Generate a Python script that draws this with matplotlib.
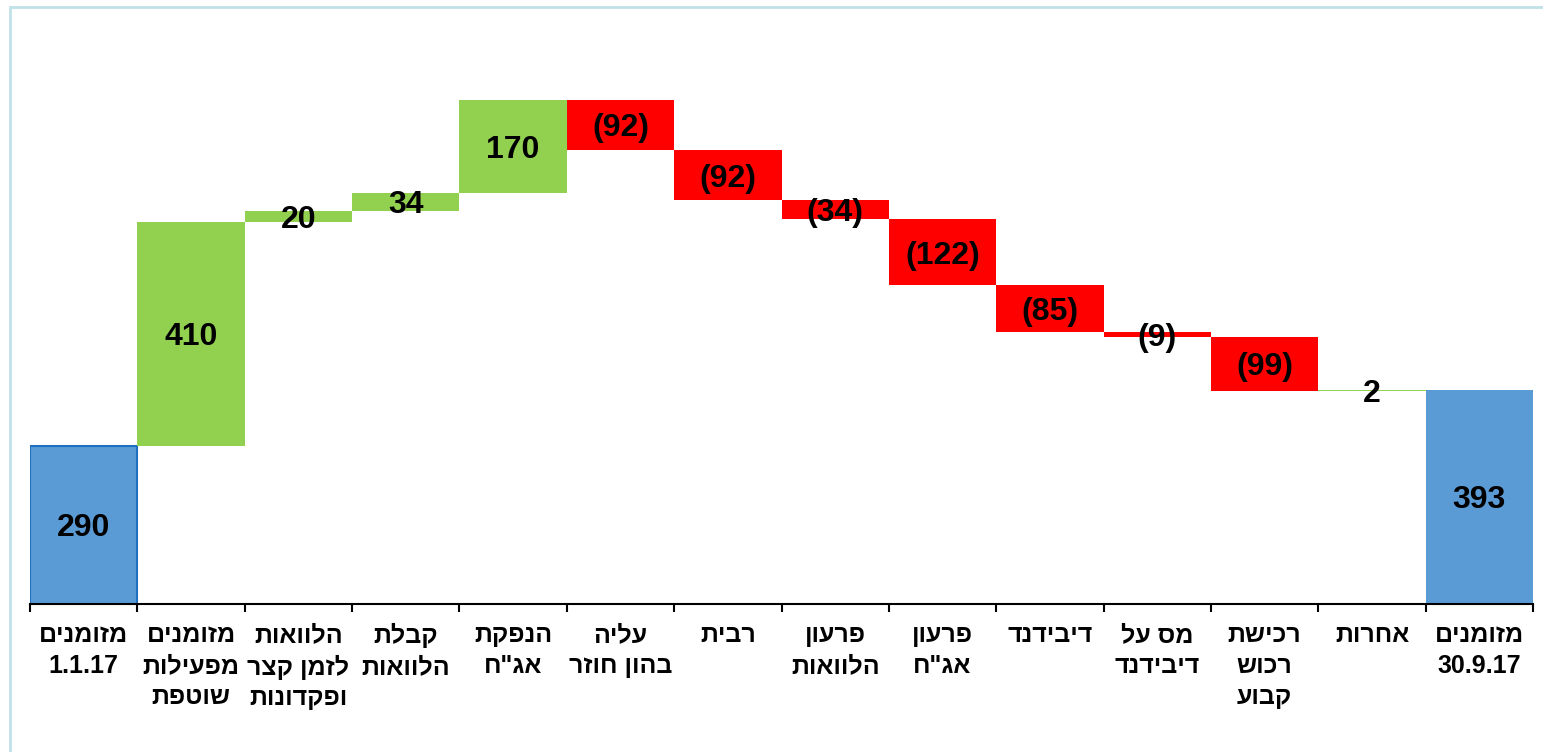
import matplotlib
matplotlib.use("Agg")
import matplotlib.pyplot as plt
import numpy as np
from matplotlib.patches import Rectangle

plt.rcParams['font.family'] = ['Liberation Sans', 'DejaVu Sans']

# categories (logical Hebrew order, one string per label, lines split by \n)
categories = [
    "מזומנים\n1.1.17",
    "מזומנים\nמפעילות\nשוטפת",
    "הלוואות\nלזמן קצר\nופקדונות",
    "קבלת\nהלוואות",
    "הנפקת\nאג\"ח",
    "עליה\nבהון חוזר",
    "רבית",
    "פרעון\nהלוואות",
    "פרעון\nאג\"ח",
    "דיבידנד",
    "מס על\nדיבידנד",
    "רכישת\nרכוש\nקבוע",
    "אחרות",
    "מזומנים\n30.9.17",
]
start_value = 290
changes = [410, 20, 34, 170, -92, -92, -34, -122, -85, -9, -99, 2]
end_value = 393


def rtl(text):
    # matplotlib has no bidi support, so flip each Hebrew line by hand
    out = []
    for line in text.split("\n"):
        if any("\u0590" <= ch <= "\u05ff" for ch in line):
            line = line[::-1]
        out.append(line)
    return "\n".join(out)


BLUE = "#5B9BD5"
GREEN = "#92D050"
RED = "#FF0000"

# waterfall geometry
bottoms, heights, colors, labels = [], [], [], []
bottoms.append(0)
heights.append(start_value)
colors.append(BLUE)
labels.append(str(start_value))
level = start_value
for c in changes:
    if c >= 0:
        bottoms.append(level)
        heights.append(c)
        colors.append(GREEN)
        labels.append(str(c))
    else:
        bottoms.append(level + c)
        heights.append(-c)
        colors.append(RED)
        labels.append("(%d)" % -c)
    level += c
bottoms.append(0)
heights.append(end_value)
colors.append(BLUE)
labels.append(str(end_value))

x = np.arange(len(categories))

fig = plt.figure(figsize=(15.43, 7.52), dpi=100)
ax = fig.add_axes([30 / 1543, 148 / 752, 1503 / 1543, 574 / 752])

bars = ax.bar(x, heights, bottom=bottoms, width=1.0, color=colors, linewidth=0)
bars[0].set_edgecolor("#1F6FC0")
bars[0].set_linewidth(1.5)

for xi, b, h, lab in zip(x, bottoms, heights, labels):
    ax.text(xi, b + h / 2, lab, ha="center", va="center_baseline",
            fontsize=23, fontweight="bold", color="black")

ax.set_xlim(-0.5, len(categories) - 0.5)
ax.set_ylim(0, 1052)

ax.set_xticks(x)
ax.set_xticklabels([rtl(c) for c in categories], fontsize=18,
                   fontweight="bold", linespacing=1.35, va="top")
ax.tick_params(axis="x", which="major", length=0, pad=14)
ax.set_xticks(np.arange(-0.5, len(categories)), minor=True)
ax.tick_params(axis="x", which="minor", length=6, width=1.5, direction="out",
               color="black")
ax.set_yticks([])

for s in ["top", "right", "left"]:
    ax.spines[s].set_visible(False)
ax.spines["bottom"].set_linewidth(1.5)
ax.spines["bottom"].set_color("black")

# light frame around the chart area
fig.patches.append(Rectangle((10 / 1543, -0.1), 1.2, (752 - 7) / 752 + 0.1,
                             transform=fig.transFigure, fill=False,
                             edgecolor="#BFE2E8", linewidth=2))

fig.savefig("out.png", dpi=100)
